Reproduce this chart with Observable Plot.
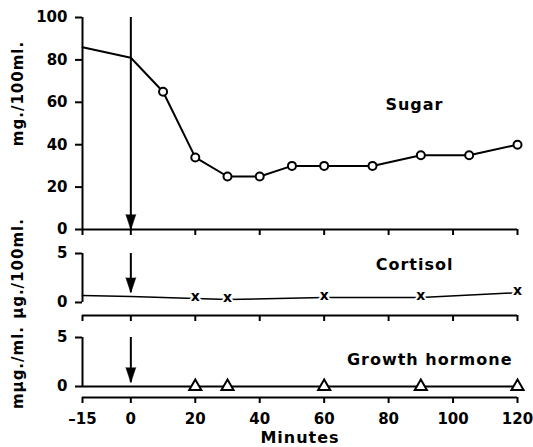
<!DOCTYPE html>
<html><head><meta charset="utf-8">
<script src="https://cdn.jsdelivr.net/npm/d3@7"></script>
<script src="https://cdn.jsdelivr.net/npm/@observablehq/plot@0.6"></script>
<style>
body{margin:0;background:#fff;}
#chart{position:relative;width:533px;height:447px;background:#fff;}
#chart svg{position:absolute;left:0;overflow:visible;}
</style></head><body><div id="chart"></div>
<script>
// ---- data ----
const sugarMinutes = [-15, 0, 10, 20, 30, 40, 50, 60, 75, 90, 105, 120];
const sugarValues  = [86, 81, 65, 34, 25, 25, 30, 30, 30, 35, 35, 40];
const cortisolMinutes = [-15, 0, 20, 30, 60, 90, 120];
const cortisolValues  = [0.7, 0.6, 0.4, 0.3, 0.5, 0.5, 1.0];
const ghMinutes = [-15, 0, 20, 30, 60, 90, 120];
const ghValues  = [0, 0, 0, 0, 0, 0, 0];
const xTicks = [-15, 0, 20, 40, 60, 80, 100, 120];
const xTickLabels = ["\u201315", "0", "20", "40", "60", "80", "100", "120"];
const sugarTicks = [0, 20, 40, 60, 80, 100];
const smallTicks = [0, 5];
const injectionTime = 0;
const arrowTops = [100, 5, 5];
const arrowTips = [0, 1, 0.4];
const panelNames = ["Sugar", "Cortisol", "Growth hormone"];
const unitLabels = ["mg./100ml.", "\u00b5g./100ml.", "m\u00b5g./ml."];
const axisTitle = "Minutes";

// ---- helpers ----
const FONT = "DejaVu Sans";
const W = 533, ML = 82, MR = 16;
const rows = (xs, ys) => xs.map((x, i) => ({x, y: ys[i]}));
const sugar = rows(sugarMinutes, sugarValues);
const cortisol = rows(cortisolMinutes, cortisolValues);
const gh = rows(ghMinutes, ghValues);
const arrow = i => [{x: injectionTime, y1: arrowTops[i], y2: arrowTips[i]}];
const style = {overflow: "visible", fontFamily: FONT, fontWeight: "bold", fontSize: "14px", color: "black", background: "transparent"};
const xDomain = [xTicks[0], xTicks[xTicks.length - 1]];

function arrowMarks(i) {
  return [
    Plot.ruleX(arrow(i), {x: "x", y1: "y1", y2: "y2", strokeWidth: 2}),
    Plot.vector(arrow(i), {x: "x", y: "y2", length: 15, rotate: 180, shape: "spike", r: 5, anchor: "end", fill: "black", stroke: "black", strokeWidth: 0.5})
  ];
}
function yAxisLine(ticks) {
  return Plot.ruleX([{x: xTicks[0], y1: ticks[0], y2: ticks[ticks.length - 1]}], {x: "x", y1: "y1", y2: "y2", strokeWidth: 2});
}
function unitLabel(i, dy) {
  return Plot.text([unitLabels[i]], {frameAnchor: "left", textAnchor: "middle", text: d => d, rotate: -90, dx: -64, dy, fontSize: 15, fontWeight: "bold"});
}
function yAxis(ticks) {
  return Plot.axisY({ticks, tickSize: 7, tickPadding: 8, tickFormat: d => String(d), strokeWidth: 2, label: null, fontSize: 15});
}

// ---- panel A: sugar ----
const pA = Plot.plot({
  width: W, height: 240, marginTop: 17, marginBottom: 11, marginLeft: ML, marginRight: MR,
  style, x: {domain: xDomain}, y: {domain: [0, 100]},
  marks: [
    yAxisLine(sugarTicks),
    Plot.ruleY([0], {strokeWidth: 2}),
    yAxis(sugarTicks),
    Plot.axisX({ticks: xTicks, tickSize: 6, tickFormat: () => "", strokeWidth: 2, label: null}),
    ...arrowMarks(0),
    Plot.line(sugar, {x: "x", y: "y", strokeWidth: 2}),
    Plot.dot(sugar.filter(d => d.x > injectionTime), {x: "x", y: "y", r: 4, fill: "white", stroke: "black", strokeWidth: 2}),
    Plot.text([panelNames[0]], {frameAnchor: "top-right", text: d => d, textAnchor: "end", dx: -74, dy: 81, fontSize: 16}),
    unitLabel(0, -30)
  ]
});

// ---- panel B: cortisol ----
const cortDomain = [-1.33, 5];
const pB = Plot.plot({
  width: W, height: 90, marginTop: 13, marginBottom: 15, marginLeft: ML, marginRight: MR,
  style, x: {domain: xDomain}, y: {domain: cortDomain},
  marks: [
    yAxisLine(smallTicks),
    Plot.ruleY([cortDomain[0]], {strokeWidth: 2}),
    yAxis(smallTicks),
    Plot.axisX({ticks: xTicks, tickSize: 6, tickFormat: () => "", strokeWidth: 2, label: null}),
    ...arrowMarks(1),
    Plot.line(cortisol, {x: "x", y: "y", strokeWidth: 1.5}),
    Plot.text(cortisol.filter(d => d.x > injectionTime), {x: "x", y: "y", text: () => "x", fontSize: 14, fontWeight: "bold", stroke: "white", strokeWidth: 4, fill: "black", dy: -2}),
    Plot.text([panelNames[1]], {frameAnchor: "top-right", text: d => d, textAnchor: "end", dx: -64, dy: 5, fontSize: 16}),
    unitLabel(1, -16)
  ]
});

// ---- panel C: growth hormone ----
const ghDomain = [-1.12, 5];
const pC = Plot.plot({
  width: W, height: 117, marginTop: 7, marginBottom: 50, marginLeft: ML, marginRight: MR,
  style, x: {domain: xDomain}, y: {domain: ghDomain},
  marks: [
    yAxisLine(smallTicks),
    Plot.ruleY([ghDomain[0]], {strokeWidth: 2}),
    yAxis(smallTicks),
    Plot.axisX({ticks: xTicks, tickSize: 6, tickPadding: 10, tickFormat: d => xTickLabels[xTicks.indexOf(d)], strokeWidth: 2, label: null, fontSize: 15}),
    ...arrowMarks(2),
    Plot.line(gh, {x: "x", y: "y", strokeWidth: 2}),
    Plot.dot(gh.filter(d => d.x > injectionTime), {x: "x", y: "y", symbol: "triangle", r: 4.5, fill: "white", stroke: "black", strokeWidth: 2}),
    Plot.text([panelNames[2]], {frameAnchor: "top-right", text: d => d, textAnchor: "end", dx: -5, dy: 16, fontSize: 16}),
    Plot.text([axisTitle], {frameAnchor: "bottom", text: d => d, dy: 45, fontSize: 16}),
    unitLabel(2, 0)
  ]
});

const chart = document.getElementById("chart");
[[pA, 0], [pB, 240], [pC, 330]].forEach(([svg, top]) => {
  svg.style.top = top + "px";
  chart.appendChild(svg);
  d3.select(svg).selectAll("text").filter(function () {
    const t = this.textContent;
    return panelNames.includes(t) || unitLabels.includes(t) || t === axisTitle;
  }).attr("letter-spacing", "1px");
});
</script></body></html>
